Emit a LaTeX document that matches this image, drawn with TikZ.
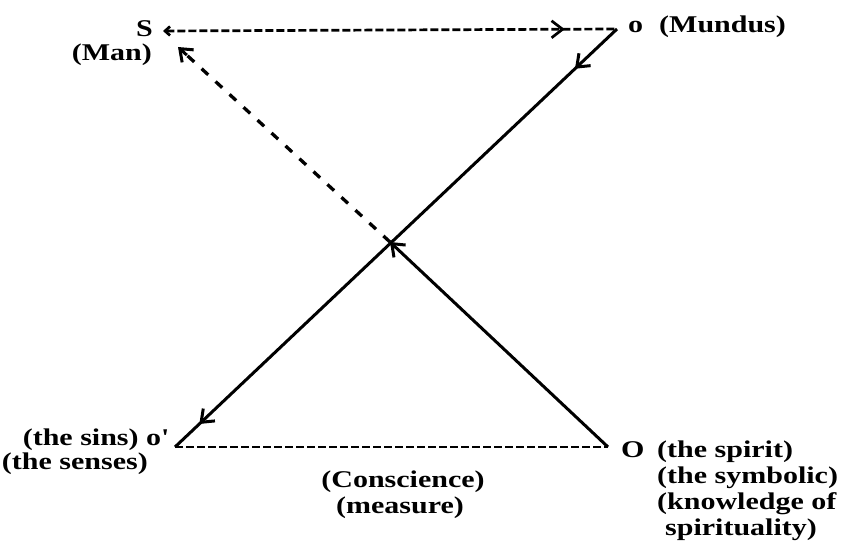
\documentclass[tikz,border=0pt]{standalone}
\usepackage{fontspec}
\setmainfont[FakeStretch=1.25]{Liberation Serif Bold}
\usetikzlibrary{arrows.meta,decorations.markings,calc}
\begin{document}
\begin{tikzpicture}[x=1pt,y=-1pt,
  >={Straight Barb[length=11pt,width=17pt]},
  solidline/.style={line width=3pt},
  dashdiag/.style={line width=3.3pt,dash pattern=on 9pt off 10pt},
  dashflat/.style={line width=2.7pt,dash pattern=on 8pt off 3pt},
  lbl/.style={font=\fontsize{24}{26}\selectfont, inner sep=0pt}
]
\useasboundingbox (0,0) rectangle (851,553);
\coordinate (S) at (163,31);
\coordinate (o) at (617,29);
\coordinate (op) at (175,447);
\coordinate (O) at (608,447);
\coordinate (X) at (390,242);
\coordinate (St) at (178,47);
\coordinate (Sb) at ($(St)!12pt!(X)$);

% top dashed line S -> o
\draw[dashflat, {Straight Barb[length=5pt,width=9pt]}-, postaction={decorate},
  decoration={markings, mark=at position 0.885 with {\arrow[solid]{>}}}] (S) -- (o);
% solid o -> o'
\draw[solidline, postaction={decorate},
  decoration={markings, mark=at position 0.095 with {\arrow{>}}, mark=at position 0.945 with {\arrow{>}}}] (o) -- (op);
% bottom dashed o' -- O
\draw[dashflat] (op) -- (O);
% solid O -> crossing
\draw[solidline,->] (O) -- (X);
% dashed crossing -> S
\draw[dashdiag] (X) -- (Sb);
\draw[solidline,->] (Sb) -- (St);

% labels
\node[lbl, anchor=base east] (tS) at (153,37) {S};
\node[lbl, anchor=base east] (tMan) at (152,61) {(Man)};
\node[lbl, anchor=base west] (to) at (628,33) {o};
\node[lbl, anchor=base west] (tMundus) at (659,33) {(Mundus)};
\node[lbl, anchor=base east] (tsins) at (168,445) {(the sins) o\textquotesingle};
\node[lbl, anchor=base east] (tsenses) at (148,469) {(the senses)};
\node[lbl, anchor=base west] (tO) at (621,457) {O};
\node[lbl, anchor=base west] (t1) at (657,457) {(the spirit)};
\node[lbl, anchor=base west] (t2) at (657,483) {(the symbolic)};
\node[lbl, anchor=base west] (t3) at (657,509) {(knowledge of};
\node[lbl, anchor=base west] (t4) at (665,535) {spirituality)};
\node[lbl, anchor=base] (tc) at (403,487) {(Conscience)};
\node[lbl, anchor=base] (tm) at (400,513) {(measure)};
\end{tikzpicture}
\end{document}
